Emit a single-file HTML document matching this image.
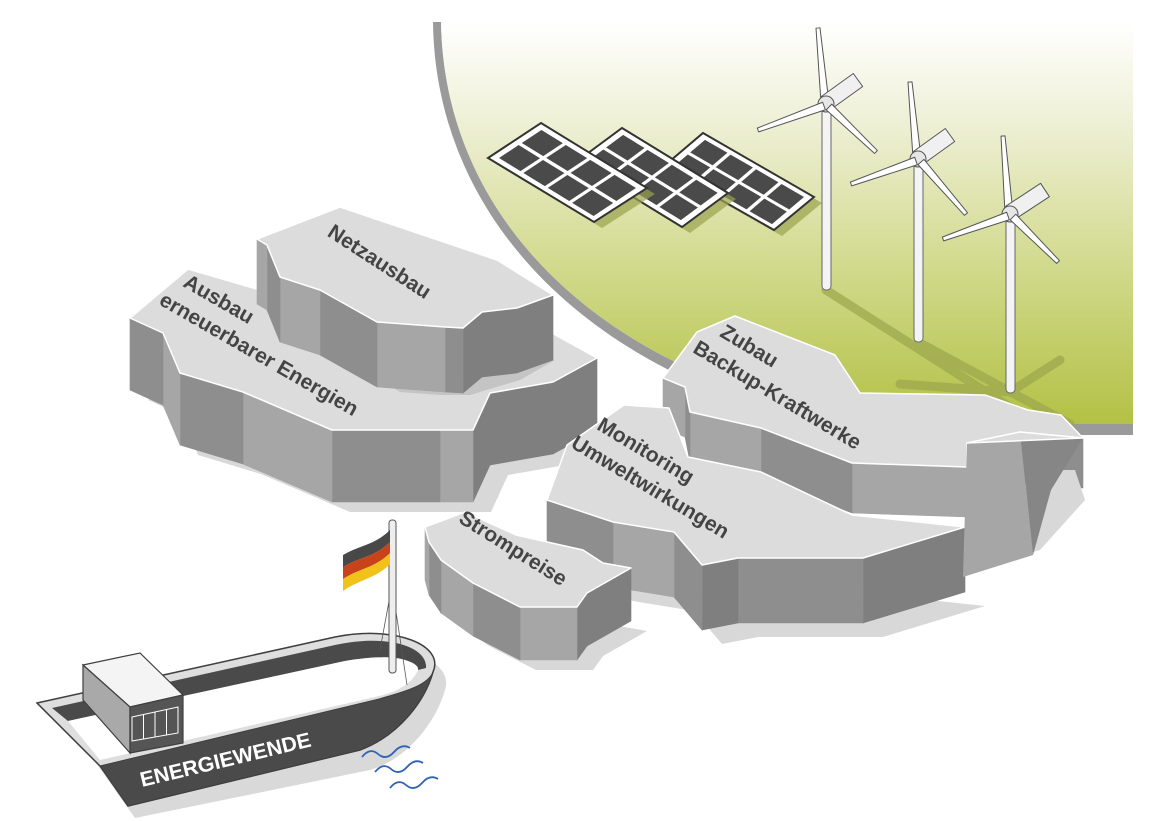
<!DOCTYPE html>
<html><head><meta charset="utf-8">
<style>
html,body{margin:0;padding:0;background:#fff;}
svg{display:block;}
text{font-family:"Liberation Sans",sans-serif;font-weight:bold;}
</style></head>
<body>
<svg id="s" width="1155" height="821" viewBox="0 0 1155 821" xmlns="http://www.w3.org/2000/svg">
<defs>
<linearGradient id="g" x1="0" y1="0" x2="0" y2="1">
<stop offset="0" stop-color="#ffffff"/>
<stop offset="0.25" stop-color="#eef0d6"/>
<stop offset="0.6" stop-color="#d2da8e"/>
<stop offset="1" stop-color="#b3c145"/>
</linearGradient>
</defs>
<path d="M433,22 C436,250 640,410 900,435 L1133,435 L1133,424 L900,424 C650,400 445,250 441,22 Z" fill="#9a9a9a"/>
<path d="M441,22 C445,250 650,400 900,424 L1133,424 L1133,22 Z" fill="url(#g)"/>
<g stroke="#9ea84e" stroke-width="9" stroke-linecap="round" opacity="0.75" fill="none">
<path d="M826,290 L1030,420"/>
<path d="M918,342 L1070,424"/>
<path d="M1010,392 L1060,360"/>
<path d="M900,384 L1010,392"/>
</g>
<g id="solar"></g>
<g id="turb"></g>
<g id="isl"></g>
<g fill="#444" font-size="21">
<text transform="translate(335,222) rotate(33)" x="0" y="16">Netzausbau</text>
<text transform="translate(190,272) rotate(30)" x="0" y="16">Ausbau</text>
<text transform="translate(166,290) rotate(30)" x="0" y="16">erneuerbarer Energien</text>
<text transform="translate(727,322) rotate(31)" x="0" y="16">Zubau</text>
<text transform="translate(700,338) rotate(31)" x="0" y="16">Backup-Kraftwerke</text>
<text transform="translate(604,415) rotate(31)" x="0" y="16">Monitoring</text>
<text transform="translate(578,433) rotate(31)" x="0" y="16">Umweltwirkungen</text>
<text transform="translate(466,508) rotate(32)" x="0" y="16">Strompreise</text>
</g>
<g id="ship">
<path d="M60,712 L340,650 C400,640 455,660 445,690 C435,725 405,760 370,770 L135,818 Z" fill="#d9d9d9"/>
<path d="M37,703 L335,637 C395,625 445,645 433,672 C425,700 400,735 360,750 L128,806 L100,766 Z" fill="#dedede" stroke="#3f3f3f" stroke-width="1.5"/>
<path d="M52,708 L335,645 C390,633 428,648 426,668 L418,670 C412,658 392,653 345,661 L68,721 Z" fill="#4a4a4a"/>
<path d="M68,721 L345,661 C395,652 420,662 418,670 C412,684 398,692 375,697 L100,760 Z" fill="#fff"/>
<path d="M100,766 L375,700 C405,692 428,685 433,672 C425,700 400,735 360,750 L128,806 Z" fill="#4a4a4a" stroke="#3f3f3f" stroke-width="1"/>
<text transform="translate(142,787) rotate(-13.5)" fill="#fff" font-size="21" textLength="175" lengthAdjust="spacingAndGlyphs">ENERGIEWENDE</text>
<polygon points="83,665 140,653 183,695 130,707" fill="#f4f4f4" stroke="#3f3f3f" stroke-width="1.2"/>
<polygon points="83,665 130,707 130,753 83,700" fill="#a9a9a9" stroke="#3f3f3f" stroke-width="1.2"/>
<polygon points="130,707 183,695 183,743 130,753" fill="#555" stroke="#3f3f3f" stroke-width="1.2"/>
<g fill="none" stroke="#fff" stroke-width="1">
<polygon points="132,717 178,707 178,733 132,741"/>
<line x1="143.5" y1="714.5" x2="143.5" y2="739"/>
<line x1="155" y1="712" x2="155" y2="737"/>
<line x1="166.5" y1="709.5" x2="166.5" y2="735"/>
</g>
<g stroke="#555" stroke-width="0.8" fill="none">
<line x1="392" y1="585" x2="380" y2="650"/>
<line x1="392" y1="585" x2="407" y2="685"/>
</g>
<rect x="389" y="520" width="7" height="153" rx="3" fill="#eee" stroke="#555" stroke-width="1"/>
<path d="M343,555 C360,545 375,545 390,530 L390,542 C375,557 360,557 343,567 Z" fill="#484848"/>
<path d="M343,567 C360,557 375,557 390,542 L390,553 C375,568 360,568 343,579 Z" fill="#c8421a"/>
<path d="M343,579 C360,568 375,568 390,553 L390,564 C375,579 360,579 343,591 Z" fill="#f0c21a"/>
<g stroke="#2f63b5" stroke-width="1.8" fill="none">
<path d="M362,757 q8,-10 16,-3 t16,-2 t16,-4"/>
<path d="M375,772 q8,-10 16,-3 t16,-2 t16,-4"/>
<path d="M390,788 q8,-10 16,-3 t16,-2 t16,-4"/>
</g>
</g>
</svg>
<script>
var NS="http://www.w3.org/2000/svg";
function el(parent,tag,attrs){var e=document.createElementNS(NS,tag);for(var k in attrs)e.setAttribute(k,attrs[k]);parent.appendChild(e);return e;}
function pts(a){return a.map(function(p){return p[0]+","+p[1];}).join(" ");}
var sg=document.getElementById("solar");
function panel(T,R,B,L){
  var sh=[T,R,B,L].map(function(p){return [p[0]+8,p[1]+6];});
  el(sg,"polygon",{points:pts(sh),fill:"#9aa24e",opacity:"0.7"});
  el(sg,"polygon",{points:pts([T,R,B,L]),fill:"#fff",stroke:"#333","stroke-width":"2"});
  function P(u,v){var x=T[0]+(R[0]-T[0])*u+(L[0]-T[0])*v, y=T[1]+(R[1]-T[1])*u+(L[1]-T[1])*v; return [x,y];}
  var m=0.04,g=0.028;
  for(var i=0;i<4;i++)for(var j=0;j<2;j++){
    var u0=m+i*((1-2*m)/4)+g/2,u1=m+(i+1)*((1-2*m)/4)-g/2;
    var v0=0.07+j*0.43+0.03,v1=0.07+(j+1)*0.43-0.03;
    el(sg,"polygon",{points:pts([P(u0,v0),P(u1,v0),P(u1,v1),P(u0,v1)]),fill:"#4a4a4a"});
  }
}
panel([703,133],[814,197],[774,230],[663,167]);
panel([622,128],[728,193],[682,227],[576,162]);
panel([541,123],[647,188],[594,222],[488,158]);
var tg=document.getElementById("turb");
function blade(h,t){
  var dx=t[0]-h[0],dy=t[1]-h[1],len=Math.sqrt(dx*dx+dy*dy),nx=-dy/len,ny=dx/len;
  var w=4;
  el(tg,"polygon",{points:pts([[h[0]+nx*w,h[1]+ny*w],[t[0]+nx*2,t[1]+ny*2],[t[0]-nx*2,t[1]-ny*2],[h[0]-nx*w,h[1]-ny*w]]),fill:"#fff",stroke:"#555","stroke-width":"1","stroke-linejoin":"round"});
}
function turbine(x,hy,bot,up,lt,rt,nac){
  el(tg,"rect",{x:x-4,y:hy,width:9,height:bot-hy,rx:4,fill:"#f4f4f4",stroke:"#666","stroke-width":"1"});
  blade([x-1,hy],up);
  var dx=nac[0]-x,dy=nac[1]-hy,len=Math.sqrt(dx*dx+dy*dy),nx=-dy/len*8,ny=dx/len*8;
  el(tg,"polygon",{points:pts([[x+nx,hy+ny],[nac[0]+nx,nac[1]+ny],[nac[0]-nx,nac[1]-ny],[x-nx,hy-ny]]),fill:"#f0f0f0",stroke:"#555","stroke-width":"1","stroke-linejoin":"round"});
  el(tg,"circle",{cx:x,cy:hy+1,r:8,fill:"#e6e6e6",stroke:"#555","stroke-width":"1"});
  blade([x-2,hy+3],lt);
  blade([x+3,hy+4],rt);
}
turbine(826,103,290,[818,28],[758,130],[876,152],[858,80]);
turbine(918,158,342,[910,82],[851,184],[966,214],[950,135]);
turbine(1010,213,393,[1003,136],[943,239],[1058,262],[1045,190]);
var ig=document.getElementById("isl");
function shade(i,dx,dy){ if(dy>0) return "#7f7f7f"; return (i%2)?"#a6a6a6":"#8e8e8e"; }
function island(top,h,shOff){
  var bot=top.map(function(p){return [p[0],p[1]+h];});
  if(shOff){
    var s=top.map(function(p){return [p[0]+shOff[0],p[1]+h+shOff[1]];});
    el(ig,"polygon",{points:pts(s),fill:"#d8d8d8"});
  }
  el(ig,"polygon",{points:pts(bot),fill:"#888"});
  var n=top.length;
  for(var i=0;i<n;i++){
    var a=top[i],b=top[(i+1)%n];
    var dx=b[0]-a[0],dy=b[1]-a[1];
    if(dx<0){
      el(ig,"polygon",{points:pts([a,b,[b[0],b[1]+h],[a[0],a[1]+h]]),fill:shade(i,dx,dy),stroke:shade(i,dx,dy),"stroke-width":"0.6"});
    }
  }
  el(ig,"polygon",{points:pts(top),fill:"#dcdcdc",stroke:"#fff","stroke-width":"1.5","stroke-linejoin":"round"});
}
island([[130,318],[188,269],[260,290],[550,332],[597,358],[553,382],[490,393],[473,430],[440,430],[332,430],[243,392],[180,373],[163,333]],72,[18,10]);
el(ig,"polygon",{points:"300,330 555,360 520,380 470,395 440,395 400,392",fill:"#c4c4c4"});
island([[257,239],[340,207],[497,260],[553,295],[517,308],[482,312],[463,328],[445,327],[377,322],[320,290],[280,277],[267,245]],65,null);
island([[663,378],[697,332],[735,316],[835,355],[860,393],[985,395],[1028,410],[1061,415],[1083,438],[1020,432],[967,443],[967,467],[852,463],[761,428],[690,412],[685,387]],50,null);
island([[547,500],[567,445],[624,405],[669,408],[688,457],[761,472],[852,515],[965,527],[863,558],[738,558],[702,565],[674,532],[613,522]],65,[20,14]);
el(ig,"polygon",{points:"975,570 1040,550 1085,500 1075,470 1055,470",fill:"#d8d8d8"});
el(ig,"polygon",{points:"967,443 1020,432 1033,555 963,577",fill:"#a6a6a6"});
el(ig,"polygon",{points:"1020,432 1083,438 1051,490 1033,555",fill:"#868686"});
el(ig,"polygon",{points:"967,443 1020,432 1083,438",fill:"#dcdcdc",stroke:"#fff","stroke-width":"1.5"});
island([[425,527],[465,512],[516,535],[583,550],[603,563],[631,568],[587,593],[577,607],[520,607],[473,583],[441,560],[429,542]],53,[16,10]);
</script>
</body></html>
